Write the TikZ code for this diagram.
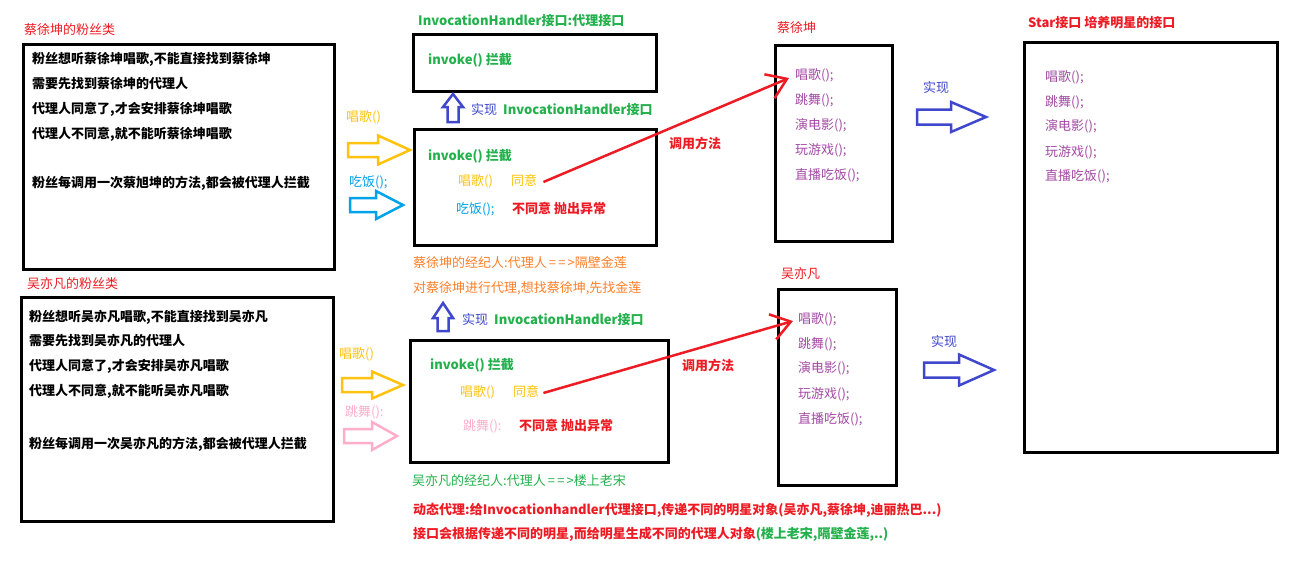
\documentclass[tikz,border=0pt]{standalone}
\usepackage{fontspec}
\setmainfont{Noto Sans CJK SC}
\usetikzlibrary{arrows.meta}
\definecolor{pred}{HTML}{ED1C24}
\definecolor{pyel}{HTML}{FFC20E}
\definecolor{pcyan}{HTML}{00A2E8}
\definecolor{ppink}{HTML}{FFAEC9}
\definecolor{pblue}{HTML}{3F48CC}
\definecolor{pgreen}{HTML}{22B14C}
\definecolor{porange}{HTML}{FF7F27}
\definecolor{ppurple}{HTML}{A349A4}
\newcommand{\hollowright}[7]{\draw[blk,#1] (#2,#5-#6) -- (#4,#5-#6) -- (#4,#5-#7) -- (#3,#5) -- (#4,#5+#7) -- (#4,#5+#6) -- (#2,#5+#6) -- cycle;}
\newcommand{\hollowup}[7]{\draw[blk,#1] (#2-#6,#3) -- (#2-#6,#5) -- (#2-#7,#5) -- (#2,#4) -- (#2+#7,#5) -- (#2+#6,#5) -- (#2+#6,#3) -- cycle;}
\begin{document}
\begin{tikzpicture}[x=1pt,y=-1pt,
 reg/.style={anchor=west, inner sep=0pt, font=\fontsize{13}{15}\selectfont, text height=9.5pt, text depth=2pt},
 txt/.style={reg, font=\fontsize{13}{15}\selectfont\bfseries},
 box/.style={draw=black, line width=3pt, anchor=north west, inner sep=0pt},
 blk/.style={line width=2.5pt, line join=miter, miter limit=10},
 call/.style={draw=pred, line width=2.5pt, -{Straight Barb[length=19pt,width=26pt]}}]
\fill[white] (0,0) rectangle (1304,574);
\useasboundingbox (0,0) rectangle (1304,574);

% ---------- boxes ----------
\node[box, minimum width=311pt, minimum height=225pt] (boxA) at (22,43) {};
\node[box, minimum width=243pt, minimum height=57pt] (boxB) at (412,33) {};
\node[box, minimum width=242pt, minimum height=116pt] (boxC) at (413,128) {};
\node[box, minimum width=117pt, minimum height=196pt] (boxD) at (774,44) {};
\node[box, minimum width=253pt, minimum height=410pt] (boxS) at (1023,41) {};
\node[box, minimum width=312pt, minimum height=224pt] (boxG) at (20,296) {};
\node[box, minimum width=258pt, minimum height=122pt] (boxF) at (409,339) {};
\node[box, minimum width=118pt, minimum height=196pt] (boxE) at (777,288) {};

% ---------- fan of Cai ----------
\node[reg, text=pred] (tA) at (24,31) {蔡徐坤的粉丝类};
\node[txt] (a1) at (32,60) {粉丝想听蔡徐坤唱歌,不能直接找到蔡徐坤};
\node[txt] (a2) at (32,85) {需要先找到蔡徐坤的代理人};
\node[txt] (a3) at (32,110) {代理人同意了,才会安排蔡徐坤唱歌};
\node[txt] (a4) at (32,135) {代理人不同意,就不能听蔡徐坤唱歌};
\node[txt] (a5) at (32,184) {粉丝每调用一次蔡旭坤的方法,都会被代理人拦截};

% ---------- fan of Wu ----------
\node[reg, text=pred] (tG) at (27,285) {吴亦凡的粉丝类};
\node[txt] (g1) at (29,318) {粉丝想听吴亦凡唱歌,不能直接找到吴亦凡};
\node[txt] (g2) at (29,342) {需要先找到吴亦凡的代理人};
\node[txt] (g3) at (29,367) {代理人同意了,才会安排吴亦凡唱歌};
\node[txt] (g4) at (29,392) {代理人不同意,就不能听吴亦凡唱歌};
\node[txt] (g5) at (29,445) {粉丝每调用一次吴亦凡的方法,都会被代理人拦截};

% ---------- InvocationHandler ----------
\node[txt, text=pgreen] (tB) at (418,22) {InvocationHandler接口:代理接口};
\node[txt, text=pgreen] (b1) at (428,61) {invoke() 拦截};
\hollowup{draw=pblue}{453}{122}{94}{107}{5.5}{10}
\node[reg, text=pblue] (impl1) at (471,111) {实现};
\node[txt, text=pgreen] (ih1) at (503,111) {InvocationHandler接口};

% ---------- proxy of Cai ----------
\node[txt, text=pgreen] (c1) at (428,157) {invoke() 拦截};
\node[reg, text=pyel] (c2) at (458,182) {唱歌()};
\node[reg, text=pyel] (agr1) at (511,182) {同意};
\node[reg, text=pcyan] (c3) at (456,210) {吃饭();};
\node[txt, text=pred] (c4) at (512,210) {不同意 抛出异常};
\node[reg, text=pyel] (l1) at (346,118) {唱歌()};
\hollowright{draw=pyel}{348}{410}{378}{150}{7}{14.5}
\node[reg, text=pcyan] (l2) at (349,183) {吃饭();};
\hollowright{draw=pcyan}{350}{403}{376}{205}{7}{14}
\node[txt, text=pred] (call1) at (669,145) {调用方法};

% ---------- Cai ----------
\node[reg, text=pred] (tD) at (777,29) {蔡徐坤};
\node[reg, text=ppurple] (d1) at (795,76) {唱歌();};
\node[reg, text=ppurple] (d2) at (795,101) {跳舞();};
\node[reg, text=ppurple] (d3) at (795,126) {演电影();};
\node[reg, text=ppurple] (d4) at (795,151) {玩游戏();};
\node[reg, text=ppurple] (d5) at (795,176) {直播吃饭();};
\node[reg, text=pblue] (impl3) at (923,89) {实现};
\hollowright{draw=pblue}{917}{986}{951}{117}{7.5}{15}

% ---------- Star ----------
\node[txt, text=pred] (tS) at (1028,24) {Star接口 培养明星的接口};
\node[reg, text=ppurple] (s1) at (1045,78) {唱歌();};
\node[reg, text=ppurple] (s2) at (1045,103) {跳舞();};
\node[reg, text=ppurple] (s3) at (1045,127) {演电影();};
\node[reg, text=ppurple] (s4) at (1045,153) {玩游戏();};
\node[reg, text=ppurple] (s5) at (1045,177) {直播吃饭();};

% ---------- agent notes ----------
\node[reg, text=porange] (o1) at (413,264) {蔡徐坤的经纪人:代理人\,=\,=\,>隔壁金莲};
\node[reg, text=porange] (o2) at (413,289) {对蔡徐坤进行代理,想找蔡徐坤,先找金莲};
\hollowup{draw=pblue}{443}{331}{303}{318}{5.5}{10}
\node[reg, text=pblue] (impl2) at (462,321) {实现};
\node[txt, text=pgreen] (ih2) at (494,321) {InvocationHandler接口};

% ---------- proxy of Wu ----------
\node[txt, text=pgreen] (f1) at (430,366) {invoke() 拦截};
\node[reg, text=pyel] (f2) at (460,393) {唱歌()};
\node[reg, text=pyel] (agr2) at (513,393) {同意};
\node[reg, text=ppink] (f3) at (463,427) {跳舞():};
\node[txt, text=pred] (f4) at (519,427) {不同意 抛出异常};
\node[reg, text=pyel] (l3) at (339,355) {唱歌()};
\hollowright{draw=pyel}{342}{403}{372}{385}{7}{13.5}
\node[reg, text=ppink] (l4) at (345,413) {跳舞():};
\hollowright{draw=ppink}{344}{397}{372}{436}{7}{14}
\node[txt, text=pred] (call2) at (682,367) {调用方法};

% ---------- Wu ----------
\node[reg, text=pred] (tE) at (781,275) {吴亦凡};
\node[reg, text=ppurple] (e1) at (798,320) {唱歌();};
\node[reg, text=ppurple] (e2) at (798,345) {跳舞();};
\node[reg, text=ppurple] (e3) at (798,369) {演电影();};
\node[reg, text=ppurple] (e4) at (798,395) {玩游戏();};
\node[reg, text=ppurple] (e5) at (798,420) {直播吃饭();};
\node[reg, text=pblue] (impl4) at (931,343) {实现};
\hollowright{draw=pblue}{924}{994}{959}{370}{7.5}{15.5}

% ---------- bottom notes ----------
\node[reg, text=pgreen] (n1) at (412,482) {吴亦凡的经纪人:代理人\,=\,=\,>楼上老宋};
\node[txt, text=pred] (n2) at (413,511) {动态代理:给Invocationhandler代理接口,传递不同的明星对象(吴亦凡,蔡徐坤,迪丽热巴...)};
\node[txt, text=pred] (n3) at (413,535) {接口会根据传递不同的明星,而给明星生成不同的代理人对象\textcolor{pgreen}{(楼上老宋,隔壁金莲,..)}};

% ---------- calls ----------
\draw[call] ([xshift=6pt]agr1.east) -- ([xshift=-6pt,yshift=-2pt]d1.west);
\draw[call] ([xshift=4pt]agr2.east) -- ([xshift=-5pt,yshift=-1pt]e1.west);
\end{tikzpicture}
\end{document}
